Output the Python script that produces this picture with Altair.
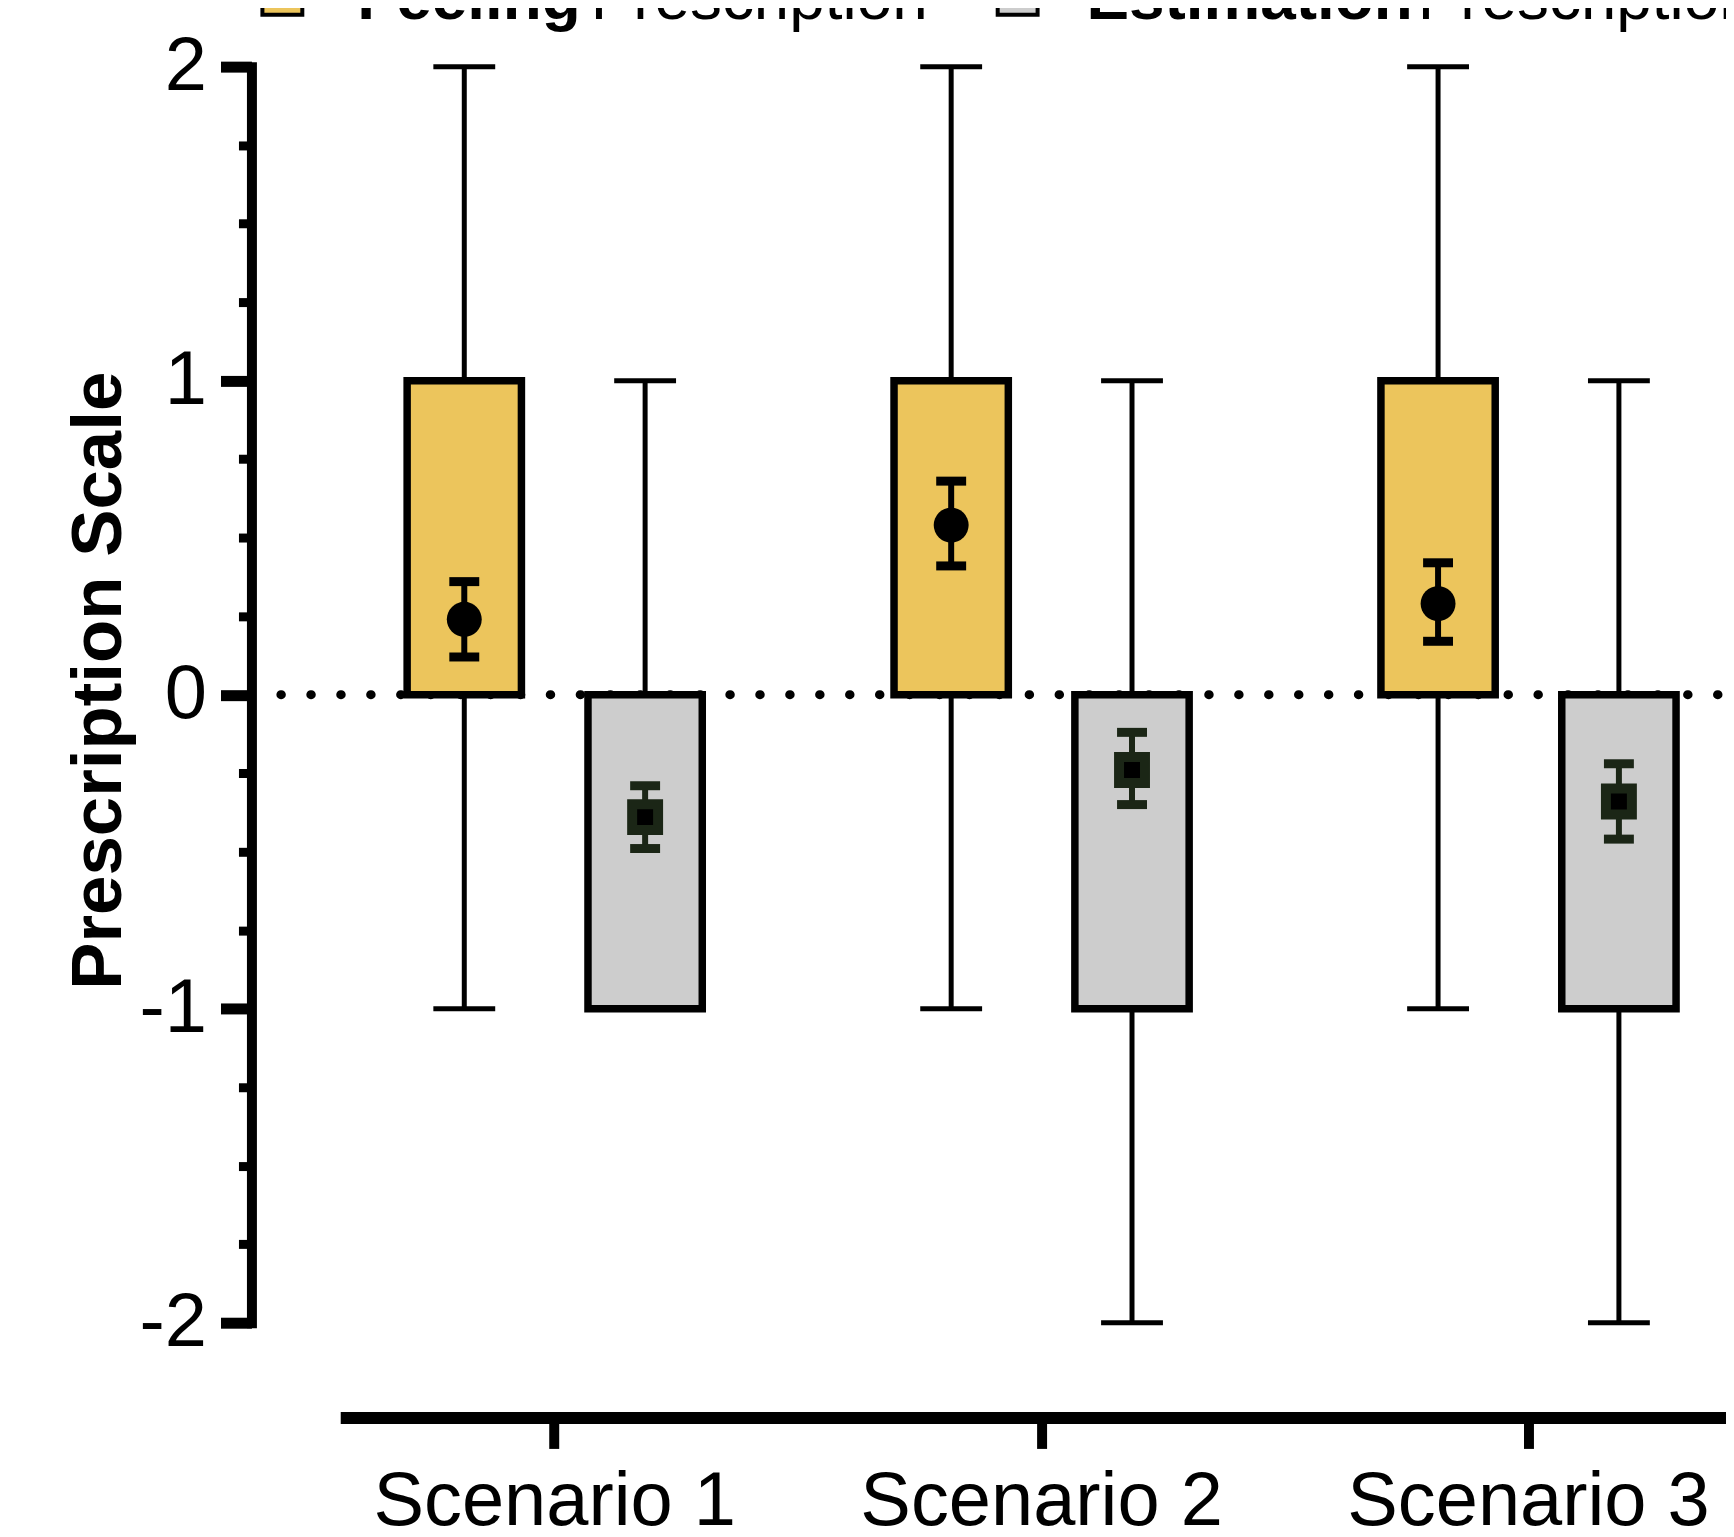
import altair as alt
import pandas as pd

# ---------------- data ----------------
scenarios = ["Scenario 1", "Scenario 2", "Scenario 3"]
groups = ["Feeling", "Estimation"]
legend_suffix = "Prescription"
y_title = "Prescription Scale"

# box plots: whisker min, Q1, Q3, whisker max
feel_min = [-1, -1, -1]
feel_q1 = [0, 0, 0]
feel_q3 = [1, 1, 1]
feel_max = [2, 2, 2]
est_min = [-1, -2, -2]
est_q1 = [-1, -1, -1]
est_q3 = [0, 0, 0]
est_max = [1, 1, 1]

# mean +/- SEM
feel_mean = [0.24, 0.54, 0.29]
feel_lo = [0.12, 0.41, 0.17]
feel_hi = [0.36, 0.68, 0.42]
est_mean = [-0.39, -0.24, -0.34]
est_lo = [-0.49, -0.35, -0.46]
est_hi = [-0.29, -0.12, -0.22]

y_ticks = [-2, -1.75, -1.5, -1.25, -1, -0.75, -0.5, -0.25, 0,
           0.25, 0.5, 0.75, 1, 1.25, 1.5, 1.75, 2]

rows = []
for i, s in enumerate(scenarios):
    rows.append(dict(scenario=s, group=groups[0], wmin=feel_min[i], q1=feel_q1[i], q3=feel_q3[i],
                     wmax=feel_max[i], mean=feel_mean[i], lo=feel_lo[i], hi=feel_hi[i]))
    rows.append(dict(scenario=s, group=groups[1], wmin=est_min[i], q1=est_q1[i], q3=est_q3[i],
                     wmax=est_max[i], mean=est_mean[i], lo=est_lo[i], hi=est_hi[i]))
df = pd.DataFrame(rows)
legend_df = pd.DataFrame({"group": groups, "suffix": [legend_suffix] * len(groups)})
zero_df = pd.DataFrame({"zero": [0]})

# ---------------- style ----------------
FONT = "Liberation Sans"
FEEL_FILL = "#ecc55c"
EST_FILL = "#cdcdcd"
EST_MARK = "#1b2616"

yscale = alt.Scale(domain=[-2, 2], nice=False, zero=False)
is_major = "datum.value % 1 === 0"
y_axis = alt.Axis(
    values=y_ticks,
    labelExpr=f"{is_major} ? toString(datum.value) : ''",
    labelOverlap=False,
    labelFont=FONT, labelFontSize=76, labelColor="black", labelPadding=14,
    tickSize={"condition": {"test": is_major, "value": 31}, "value": 13},
    tickWidth={"condition": {"test": is_major, "value": 11}, "value": 9},
    tickColor="black",
    domainColor="black", domainWidth=10, domainCap="square",
    grid=False,
    title=y_title, titleFont=FONT, titleFontSize=71, titleFontWeight="bold",
    titleColor="black", titleAngle=270, titleAlign="center",
    titleBaseline="alphabetic", titleX=-131, titleY=615,
)

x_enc = alt.X(
    "scenario:N", sort=scenarios,
    scale=alt.Scale(domain=scenarios, range=[89, 1495], paddingInner=0.119, paddingOuter=0),
    axis=alt.Axis(
        orient="bottom", offset=95, title=None, labelAngle=0, labelLimit=0,
        domainColor="black", domainWidth=12,
        tickColor="black", tickSize=31, tickWidth=10,
        labelFont=FONT, labelFontSize=76, labelColor="black", labelPadding=16,
        grid=False,
    ),
)
xo_enc = alt.XOffset(
    "group:N", sort=groups,
    scale=alt.Scale(domain=groups, paddingInner=0.368, paddingOuter=0.37),
)


def Y(field):
    return alt.Y(field, type="quantitative", scale=yscale, axis=y_axis)


base = alt.Chart(df).encode(x=x_enc, xOffset=xo_enc)

zero_rule = alt.Chart(zero_df).mark_rule(
    color="black", strokeWidth=9, strokeCap="round",
    strokeDash=[0.5, 29.5], strokeDashOffset=22,
).encode(y=Y("zero"))

whisker = base.mark_rule(color="black", strokeWidth=5).encode(y=Y("wmin"), y2="wmax")
cap_lo = base.mark_tick(color="black", size=62, thickness=5, orient="horizontal", opacity=1).encode(y=Y("wmin"))
cap_hi = base.mark_tick(color="black", size=62, thickness=5, orient="horizontal", opacity=1).encode(y=Y("wmax"))

box = base.mark_bar(stroke="black", strokeWidth=7.5, opacity=1).encode(
    y=Y("q1"), y2="q3",
    fill=alt.Fill("group:N", scale=alt.Scale(domain=groups, range=[FEEL_FILL, EST_FILL]), legend=None),
)

mark_col = alt.Color("group:N", scale=alt.Scale(domain=groups, range=["black", EST_MARK]), legend=None)
sem = base.mark_rule(strokeWidth=6).encode(y=Y("lo"), y2="hi", color=mark_col)
sem_lo = base.mark_tick(size=30, thickness=9, orient="horizontal", opacity=1).encode(y=Y("lo"), color=mark_col)
sem_hi = base.mark_tick(size=30, thickness=9, orient="horizontal", opacity=1).encode(y=Y("hi"), color=mark_col)

mean_feel = base.transform_filter(alt.datum.group == groups[0]).mark_point(
    shape="circle", filled=True, fill="black", stroke="black", strokeWidth=0, size=1225, opacity=1
).encode(y=Y("mean"))
mean_est = base.transform_filter(alt.datum.group == groups[1]).mark_point(
    shape="square", filled=True, fill="black", stroke=EST_MARK, strokeWidth=10, size=676, opacity=1
).encode(y=Y("mean"))

# ---------------- legend (drawn above the plot, partly cut off) ----------------
leg = alt.Chart(legend_df)
LEG_Y_TEXT = -48
LEG_Y_SWATCH = -72
sw1 = leg.transform_filter(alt.datum.group == groups[0]).mark_point(
    shape="square", filled=True, fill=FEEL_FILL, stroke="black", strokeWidth=4, size=1600, opacity=1
).encode(x=alt.value(31), y=alt.value(LEG_Y_SWATCH))
sw2 = leg.transform_filter(alt.datum.group == groups[1]).mark_point(
    shape="square", filled=True, fill=EST_FILL, stroke="black", strokeWidth=4, size=1600, opacity=1
).encode(x=alt.value(768), y=alt.value(LEG_Y_SWATCH))

def leg_text(idx, field, x, bold):
    return leg.transform_filter(alt.datum.group == groups[idx]).mark_text(
        align="left", baseline="alphabetic", font=FONT, fontSize=64,
        fontWeight="bold" if bold else "normal", color="black",
    ).encode(text=f"{field}:N", x=alt.value(x), y=alt.value(LEG_Y_TEXT))

t1 = leg_text(0, "group", 106, True)
t2 = leg_text(0, "suffix", 340, False)
t3 = leg_text(1, "group", 837, True)
t4 = leg_text(1, "suffix", 1169, False)

chart = alt.layer(
    zero_rule, whisker, cap_lo, cap_hi, box, sem, sem_lo, sem_hi, mean_feel, mean_est,
    sw1, sw2, t1, t2, t3, t4,
).properties(
    width=1478, height=1259,
    autosize=alt.AutoSizeParams(type="none"),
    padding={"left": 244, "top": 57, "right": 0, "bottom": 205},
    background="white",
).configure_view(stroke=None)

chart.save("out.html", embed_options={"renderer": "svg", "actions": False})
